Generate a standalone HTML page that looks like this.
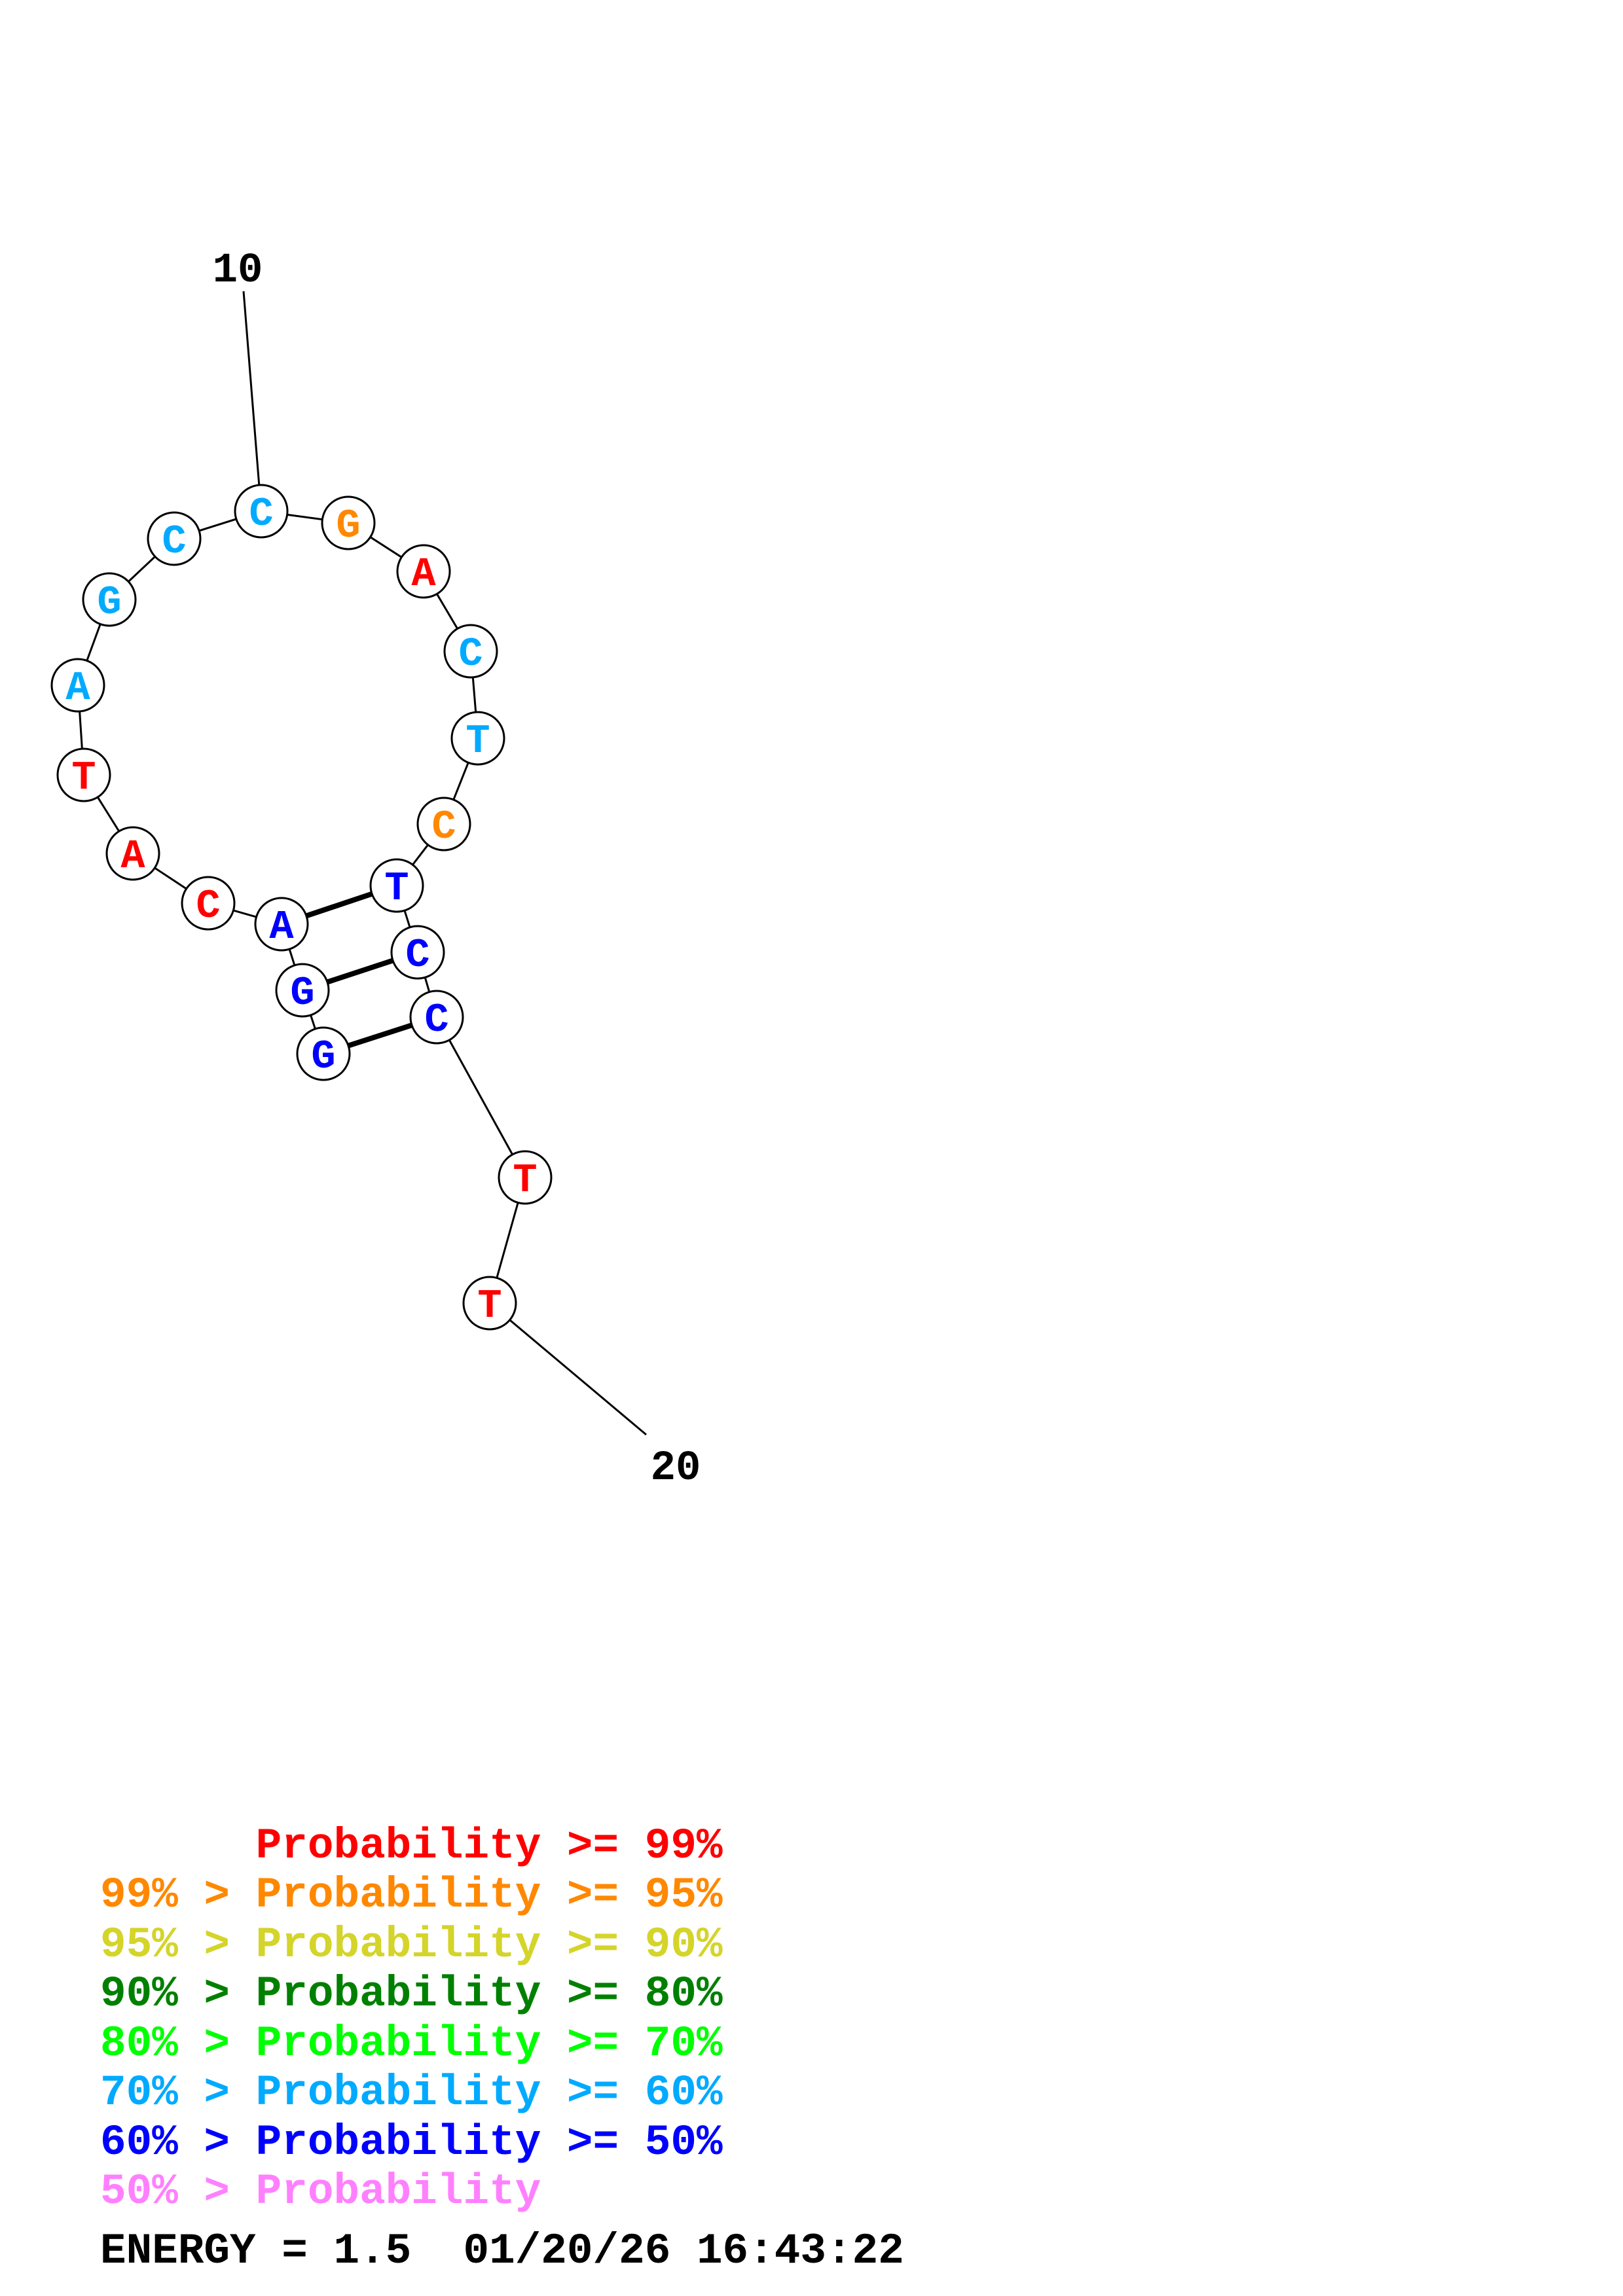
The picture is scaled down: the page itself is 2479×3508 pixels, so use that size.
<!DOCTYPE html>
<html><head><meta charset="utf-8"><style>html,body{margin:0;padding:0;background:#fff}svg{display:block}text{white-space:pre}</style></head><body>
<svg width="2479" height="3508" viewBox="0 0 2479 3508" xmlns="http://www.w3.org/2000/svg">
<g transform="translate(0,-6)">
<g stroke="#000" stroke-width="3" fill="none">
<line x1="372" y1="451" x2="399" y2="787"/>
<line x1="987" y1="2198" x2="748" y2="1997"/>
<polyline points="399,787 532,805 647,879 719,1001 730,1134 678,1265 606,1359 638,1461 667,1560 802,1805 748,1997"/>
<polyline points="399,787 266,829 167,922 119,1053 128,1190 203,1310 318,1386 430,1418 462,1519 494,1616"/>
</g>
<g stroke="#000" stroke-width="8">
<line x1="430" y1="1418" x2="606" y2="1359"/>
<line x1="462" y1="1519" x2="638" y2="1461"/>
<line x1="494" y1="1616" x2="667" y2="1560"/>
</g>
<g font-family="Liberation Mono, monospace" font-weight="bold" font-size="62" text-anchor="middle">
<g stroke="#000" stroke-width="3" fill="#fff">
<circle cx="399" cy="787" r="40"/><circle cx="532" cy="805" r="40"/><circle cx="647" cy="879" r="40"/><circle cx="719" cy="1001" r="40"/><circle cx="730" cy="1134" r="40"/><circle cx="678" cy="1265" r="40"/><circle cx="606" cy="1359" r="40"/><circle cx="638" cy="1461" r="40"/><circle cx="667" cy="1560" r="40"/><circle cx="494" cy="1616" r="40"/><circle cx="462" cy="1519" r="40"/><circle cx="430" cy="1418" r="40"/><circle cx="318" cy="1386" r="40"/><circle cx="203" cy="1310" r="40"/><circle cx="128" cy="1190" r="40"/><circle cx="119" cy="1053" r="40"/><circle cx="167" cy="922" r="40"/><circle cx="266" cy="829" r="40"/><circle cx="802" cy="1805" r="40"/><circle cx="748" cy="1997" r="40"/>
</g>
<text x="399" y="808" fill="#00aaff">C</text>
<text x="532" y="826" fill="#ff8800">G</text>
<text x="647" y="900" fill="#ff0000">A</text>
<text x="719" y="1022" fill="#00aaff">C</text>
<text x="730" y="1155" fill="#00aaff">T</text>
<text x="678" y="1286" fill="#ff8800">C</text>
<text x="606" y="1380" fill="#0000ff">T</text>
<text x="638" y="1482" fill="#0000ff">C</text>
<text x="667" y="1581" fill="#0000ff">C</text>
<text x="494" y="1637" fill="#0000ff">G</text>
<text x="462" y="1540" fill="#0000ff">G</text>
<text x="430" y="1439" fill="#0000ff">A</text>
<text x="318" y="1407" fill="#ff0000">C</text>
<text x="203" y="1331" fill="#ff0000">A</text>
<text x="128" y="1211" fill="#ff0000">T</text>
<text x="119" y="1074" fill="#00aaff">A</text>
<text x="167" y="943" fill="#00aaff">G</text>
<text x="266" y="850" fill="#00aaff">C</text>
<text x="802" y="1826" fill="#ff0000">T</text>
<text x="748" y="2018" fill="#ff0000">T</text>
</g>
<g font-family="Liberation Mono, monospace" font-weight="bold" font-size="64" fill="#000" text-anchor="middle">
<text x="363" y="436">10</text>
<text x="1032" y="2266">20</text>
</g>
</g>
<g font-family="Liberation Mono, monospace" font-weight="bold" font-size="66">
<text x="153" y="2838" fill="#ff0000">      Probability &gt;= 99%</text>
<text x="153" y="2913" fill="#ff8800">99% &gt; Probability &gt;= 95%</text>
<text x="153" y="2989" fill="#d4d42a">95% &gt; Probability &gt;= 90%</text>
<text x="153" y="3064" fill="#008000">90% &gt; Probability &gt;= 80%</text>
<text x="153" y="3140" fill="#00ff00">80% &gt; Probability &gt;= 70%</text>
<text x="153" y="3215" fill="#00aaff">70% &gt; Probability &gt;= 60%</text>
<text x="153" y="3291" fill="#0000ff">60% &gt; Probability &gt;= 50%</text>
<text x="153" y="3366" fill="#ff80ff">50% &gt; Probability</text>
<text x="153" y="3457" fill="#000" font-size="66">ENERGY = 1.5  01/20/26 16:43:22</text>
</g>
</svg>
</body></html>
